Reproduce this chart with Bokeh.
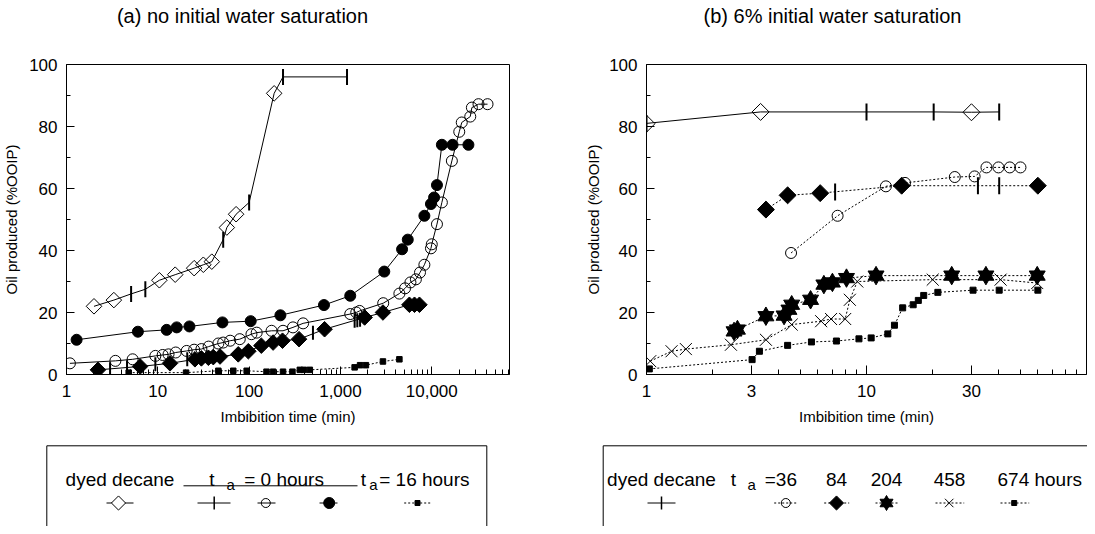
import math
from bokeh.plotting import figure
from bokeh.models import Range1d, FixedTicker, NumeralTickFormatter
from bokeh.layouts import column, row
from bokeh.embed import file_html
from bokeh.resources import INLINE
from bokeh.core.properties import value

FONT = "Liberation Sans"

# ---------------- axes / ticks ----------------
Y_MAJOR = [0, 20, 40, 60, 80, 100]
Y_MINOR = [10, 30, 50, 70, 90]
A_X_MAJOR = [1, 10, 100, 1000, 10000]
A_X_MINOR = [2, 3, 4, 5, 6, 7, 8, 9, 20, 30, 40, 50, 60, 70, 80, 90,
             200, 300, 400, 500, 600, 700, 800, 900,
             2000, 3000, 4000, 5000, 6000, 7000, 8000, 9000,
             20000, 30000, 40000, 50000, 60000, 70000]
B_X_MAJOR = [1, 3, 10, 30]
B_X_MINOR = [2, 4, 5, 6, 7, 8, 9, 20, 40, 50, 60, 70, 80, 90]

# ---------------- panel (a): no initial water saturation ----------------
a_decane_x = [2.0, 3.3, 10.4, 15.5, 25, 31.5, 39, 57, 72, 188]
a_decane_y = [22, 24, 30.4, 32.2, 34.3, 35.4, 36.4, 47.4, 51.7, 90.7]
a_plus1_x = [5.1, 7.3, 52, 100, 235, 1180]
a_plus1_y = [26, 27.5, 43.5, 55.5, 96, 96]
a_plus2_x = [3.0, 4.6, 9.4, 21, 500, 1430, 1530, 1640]
a_plus2_y = [1.7, 2.3, 3.3, 4.9, 13.5, 17.3, 17.5, 17.7]
a_open_x = [1.09, 3.43, 5.3, 9.4, 11.3, 13.1, 15.7, 20.7, 25, 30, 36, 46, 52, 62, 79,
            106, 121, 176, 235, 302, 390, 1280, 1490, 1620, 2940, 4420, 5100, 5840,
            6700, 7430, 8300, 9800, 10000, 11400, 12900, 16600, 20000, 21300, 26400,
            27500, 32500, 40800]
a_open_y = [3.6, 4.4, 4.9, 6.0, 6.3, 6.5, 7.1, 7.6, 8.0, 8.2, 9.0, 10.0, 10.3, 10.9, 11.4,
            13.0, 13.5, 14.1, 14.1, 15.2, 16.5, 19.5, 20.0, 20.5, 23.0, 26.1, 27.8, 29.7,
            30.7, 32.9, 35.4, 40.7, 42.0, 48.5, 55.5, 68.9, 78.3, 81.3, 83.2,
            86.1, 87.2, 87.2]
a_fill_x = [1.29, 6.05, 12.5, 16.1, 22.2, 51, 104, 220, 660, 1280, 3020, 4730, 5460,
            8300, 9800, 10600, 11400, 12900, 16900, 25200]
a_fill_y = [11.2, 13.8, 14.4, 15.2, 15.5, 16.8, 17.2, 19.1, 22.4, 25.4, 33.2, 40.4, 43.5,
            51.2, 55.0, 57.1, 61.1, 74.1, 74.1, 74.1]
a_fdiam_x = [2.21, 6.4, 13.6, 25.5, 30, 35.8, 40.5, 48, 76, 98, 136, 183, 232, 352, 670,
             1840, 2920, 5690, 6470, 7330]
a_fdiam_y = [1.5, 2.6, 3.6, 4.9, 5.2, 5.4, 5.6, 5.8, 6.5, 7.5, 9.3, 10.3, 10.9, 11.4, 14.6,
             18.4, 20.0, 22.5, 22.5, 22.5]
a_sq_x = [4.8, 20.4, 46, 67, 94, 155, 183, 235, 298, 359, 398, 462, 1430, 1640, 1900, 2920, 4420]
a_sq_y = [0.6, 0.6, 1.2, 1.2, 1.2, 0.9, 0.9, 0.9, 0.9, 1.5, 1.5, 1.5, 2.3, 3.0, 3.0, 4.2, 4.9]

# ---------------- panel (b): 6% initial water saturation ----------------
b_decane_x = [1.0, 3.3, 30]
b_decane_y = [80.9, 84.7, 84.6]
b_plus1_x = [1.0, 10, 20.2, 40.1]
b_plus1_y = [81.0, 84.7, 84.7, 84.7]
b_plus2_x = [7.2, 32.1, 40.1]
b_plus2_y = [58.9, 60.9, 60.9]
b36_x = [4.54, 7.39, 12.25, 14.96, 25.2, 31, 35.1, 39.8, 44.8, 50.1]
b36_y = [39.2, 51.2, 60.7, 61.8, 63.7, 63.9, 66.8, 66.8, 66.8, 66.8]
b84_x = [3.49, 4.38, 6.16, 14.45, 60.1]
b84_y = [53.2, 57.8, 58.5, 60.9, 60.9]
b204_x = [2.5, 2.59, 3.49, 4.22, 4.44, 4.57, 5.57, 6.4, 7.0, 8.11, 11.05, 24.4, 34.9, 59.7]
b204_y = [13.9, 14.5, 18.8, 19.0, 20.9, 22.5, 24.1, 29.0, 29.7, 31.1, 31.9, 31.9, 31.9, 31.9]
b458_x = [1.04, 1.30, 1.51, 2.42, 3.49, 4.57, 6.22, 6.9, 8.0, 8.4, 9.08, 20, 40.7, 59.7]
b458_y = [4.3, 7.5, 8.2, 9.6, 11.2, 16.1, 17.2, 17.9, 17.9, 24.1, 30.0, 30.6, 30.6, 29.5]
b674_x = [1.03, 3.02, 3.26, 4.38, 5.62, 7.3, 9.24, 10.5, 12.5, 13.4, 14.6, 16.3, 17.2, 18.2,
          21.1, 30.5, 40.1, 60.1]
b674_y = [1.8, 4.8, 7.5, 9.4, 10.5, 10.8, 11.5, 11.8, 13.1, 15.9, 21.5, 22.5, 23.9, 25.5,
          26.5, 27.2, 27.2, 27.2]

TITLE_A = "(a) no initial water saturation"
TITLE_B = "(b) 6% initial water saturation"
X_LABEL = "Imbibition time (min)"
Y_LABEL = "Oil produced (%OOIP)"

DOT = "2 2"
DIAM = math.pi / 4
VERT = math.pi / 2


def merged(xs1, ys1, xs2, ys2):
    pts = sorted(zip(list(xs1) + list(xs2), list(ys1) + list(ys2)))
    return [p[0] for p in pts], [p[1] for p in pts]


def make_panel(x_end, width, mb_left, mb_right, xt_major, xt_minor, ylab_standoff, x_tick_in):
    p = figure(width=width, height=392, x_axis_type="log",
               x_range=Range1d(1, x_end), y_range=Range1d(0, 100),
               output_backend="svg", toolbar_location=None,
               min_border_left=mb_left, min_border_right=mb_right,
               min_border_top=24, min_border_bottom=58,
               background_fill_color="white", border_fill_color="white")
    p.grid.visible = False
    p.outline_line_color = "black"
    p.outline_line_width = 1
    p.xaxis.ticker = FixedTicker(ticks=xt_major, minor_ticks=xt_minor)
    p.xaxis.formatter = NumeralTickFormatter(format="0,0")
    p.yaxis.ticker = FixedTicker(ticks=Y_MAJOR, minor_ticks=Y_MINOR)
    for ax in (p.xaxis[0], p.yaxis[0]):
        ax.axis_line_color = "black"
        ax.major_tick_out = 0
        ax.minor_tick_out = 0
        ax.major_tick_line_color = "black"
        ax.minor_tick_line_color = "black"
        ax.major_label_text_font = FONT
        ax.major_label_text_font_size = "17px"
        ax.major_label_text_color = "black"
        ax.axis_label_text_font = FONT
        ax.axis_label_text_font_size = "15px"
        ax.axis_label_text_font_style = "normal"
        ax.axis_label_text_color = "black"
    p.xaxis.major_tick_in = x_tick_in
    p.xaxis.minor_tick_in = 5
    p.yaxis.major_tick_in = 8
    p.yaxis.minor_tick_in = 4
    p.xaxis.axis_label = X_LABEL
    p.yaxis.axis_label = Y_LABEL
    p.xaxis.major_label_standoff = 10
    p.yaxis.major_label_standoff = 9
    p.xaxis.axis_label_standoff = 8
    p.yaxis.axis_label_standoff = ylab_standoff
    return p


def star(p, xs, ys, size):
    p.scatter(xs, ys, marker="triangle", size=size, fill_color="black", line_color="black")
    p.scatter(xs, ys, marker="inverted_triangle", size=size, fill_color="black", line_color="black")


def ticks(p, xs, ys, size):
    p.scatter(xs, ys, marker="dash", angle=VERT, size=size, line_color="black", line_width=2)


# ---------------- panel (a) ----------------
pa = make_panel(71000, 582, 65, 73, A_X_MAJOR, A_X_MINOR, 6, 8)
lx, ly = merged(a_decane_x, a_decane_y, a_plus1_x, a_plus1_y)
pa.line(lx, ly, line_color="black", line_width=1)
pa.line(a_open_x, a_open_y, line_color="black", line_width=1)
pa.line(a_fill_x, a_fill_y, line_color="black", line_width=1)
pa.line(a_fdiam_x, a_fdiam_y, line_color="black", line_width=1)
pa.line(a_sq_x, a_sq_y, line_color="black", line_width=1, line_dash=DOT)
pa.scatter(a_decane_x, a_decane_y, marker="square", angle=DIAM, size=11,
           fill_color=None, line_color="black", line_width=1)
ticks(pa, a_plus1_x, a_plus1_y, 16)
ticks(pa, a_plus2_x, a_plus2_y, 14)
pa.scatter(a_open_x, a_open_y, marker="circle", size=11, fill_color=None,
           line_color="black", line_width=1)
pa.scatter(a_fill_x, a_fill_y, marker="circle", size=11, fill_color="black", line_color="black")
pa.scatter(a_fdiam_x, a_fdiam_y, marker="square", angle=DIAM, size=11,
           fill_color="black", line_color="black")
pa.scatter(a_sq_x, a_sq_y, marker="square", size=5.5, fill_color="black", line_color="black")

# ---------------- panel (b) ----------------
pb = make_panel(100, 505, 58, 1, B_X_MAJOR, B_X_MINOR, 4, 9)
lx, ly = merged(b_decane_x, b_decane_y, b_plus1_x, b_plus1_y)
pb.line(lx, ly, line_color="black", line_width=1)
for xs, ys in ((b36_x, b36_y), (b84_x, b84_y), (b204_x, b204_y), (b458_x, b458_y), (b674_x, b674_y)):
    pb.line(xs, ys, line_color="black", line_width=1, line_dash=DOT)
pb.scatter(b_decane_x, b_decane_y, marker="square", angle=DIAM, size=12,
           fill_color=None, line_color="black", line_width=1)
ticks(pb, b_plus1_x, b_plus1_y, 17)
ticks(pb, b_plus2_x, b_plus2_y, 17)
pb.scatter(b36_x, b36_y, marker="circle", size=11, fill_color=None, line_color="black", line_width=1)
pb.scatter(b84_x, b84_y, marker="square", angle=DIAM, size=12, fill_color="black", line_color="black")
star(pb, b204_x, b204_y, 16)
pb.scatter(b458_x, b458_y, marker="x", size=17, line_color="black", line_width=1)
pb.scatter(b674_x, b674_y, marker="square", size=6, fill_color="black", line_color="black")


# ---------------- title strip (page coordinates) ----------------
def blank(height, y0, y1):
    f = figure(width=1087, height=height, x_range=Range1d(8, 1095), y_range=Range1d(y1, y0),
               output_backend="svg", toolbar_location=None, min_border=0,
               x_axis_location=None, y_axis_location=None,
               background_fill_color="white", border_fill_color="white")
    f.outline_line_color = None
    f.grid.visible = False
    return f


tf = blank(40, 8, 48)
tf.text(x=[250, 840], y=[23, 23], text=[TITLE_A, TITLE_B], text_font=value(FONT),
        text_font_size=value("20px"), text_align="center", text_baseline="middle",
        text_color="black")

# ---------------- legend strip (page coordinates) ----------------
lg = blank(94, 440, 534)
lg.quad(left=[54.3, 610.7], right=[494.3, 1200], top=[453.3, 453.3], bottom=[600, 600],
        fill_color=None, line_color="black", line_width=1)

LEG_FS = "19px"
SUB_FS = "15px"
BASE = 487
SUB_BASE = 492
SYM_Y = 510.5


def ltext(xs, text, align, fs=LEG_FS, base=BASE):
    lg.text(x=xs, y=[base] * len(xs), text=text, text_font=value(FONT),
            text_font_size=value(fs), text_align=align, text_baseline="alphabetic",
            text_color="black")


# legend (a)
ltext([127.5], ["dyed decane"], "center")
ltext([216.7, 251.7, 368.3, 386.7], ["t", "= 0 hours", "t", "= 16 hours"], "left")
ltext([234, 376.7], ["a", "a"], "left", SUB_FS, SUB_BASE)
lg.segment(x0=[191], y0=[493.3], x1=[365], y1=[493.3], line_color="black", line_width=1)
# legend (a) symbols
lg.segment(x0=[114, 205, 265, 327], y0=[SYM_Y] * 4, x1=[141, 238, 283, 345], y1=[SYM_Y] * 4,
           line_color="black", line_width=1)
lg.segment(x0=[411.7], y0=[SYM_Y], x1=[438.3], y1=[SYM_Y], line_color="black",
           line_width=1, line_dash=DOT)
lg.scatter([126], [SYM_Y], marker="square", angle=DIAM, size=10, fill_color="white",
           line_color="black")
lg.scatter([221.7], [SYM_Y], marker="dash", angle=VERT, size=13, line_color="black",
           line_width=1.5)
lg.scatter([273.3], [SYM_Y], marker="circle", size=9, fill_color=None, line_color="black")
lg.scatter([336.7], [SYM_Y], marker="circle", size=11, fill_color="black", line_color="black")
lg.scatter([425], [SYM_Y], marker="square", size=5, fill_color="black", line_color="black")

# legend (b)
ltext([669], ["dyed decane"], "center")
ltext([738.3], ["t"], "left")
ltext([755], ["a"], "left", SUB_FS, SUB_BASE)
ltext([804.5], ["=36"], "right")
ltext([844, 894, 957], ["84", "204", "458"], "center")
ltext([1005], ["674 hours"], "left")
lg.segment(x0=[655], y0=[SYM_Y], x1=[683], y1=[SYM_Y], line_color="black", line_width=1)
lg.scatter([669], [SYM_Y], marker="dash", angle=VERT, size=13, line_color="black",
           line_width=1.5)
lg.segment(x0=[781.7, 831.7, 883, 943, 1008], y0=[SYM_Y] * 5,
           x1=[805, 856.7, 905, 971.7, 1036.7], y1=[SYM_Y] * 5,
           line_color="black", line_width=1, line_dash=DOT)
lg.scatter([793.3], [SYM_Y], marker="circle", size=9, fill_color=None, line_color="black")
lg.scatter([844], [SYM_Y], marker="square", angle=DIAM, size=10, fill_color="black",
           line_color="black")
lg.scatter([894], [SYM_Y], marker="triangle", size=13, fill_color="black", line_color="black")
lg.scatter([894], [SYM_Y], marker="inverted_triangle", size=13, fill_color="black",
           line_color="black")
lg.scatter([956.7], [SYM_Y], marker="x", size=12, line_color="black")
lg.scatter([1021.7], [SYM_Y], marker="square", size=5, fill_color="black", line_color="black")

layout = column(tf, row(pa, pb), lg)
open("out.html", "w").write(file_html(layout, INLINE))
